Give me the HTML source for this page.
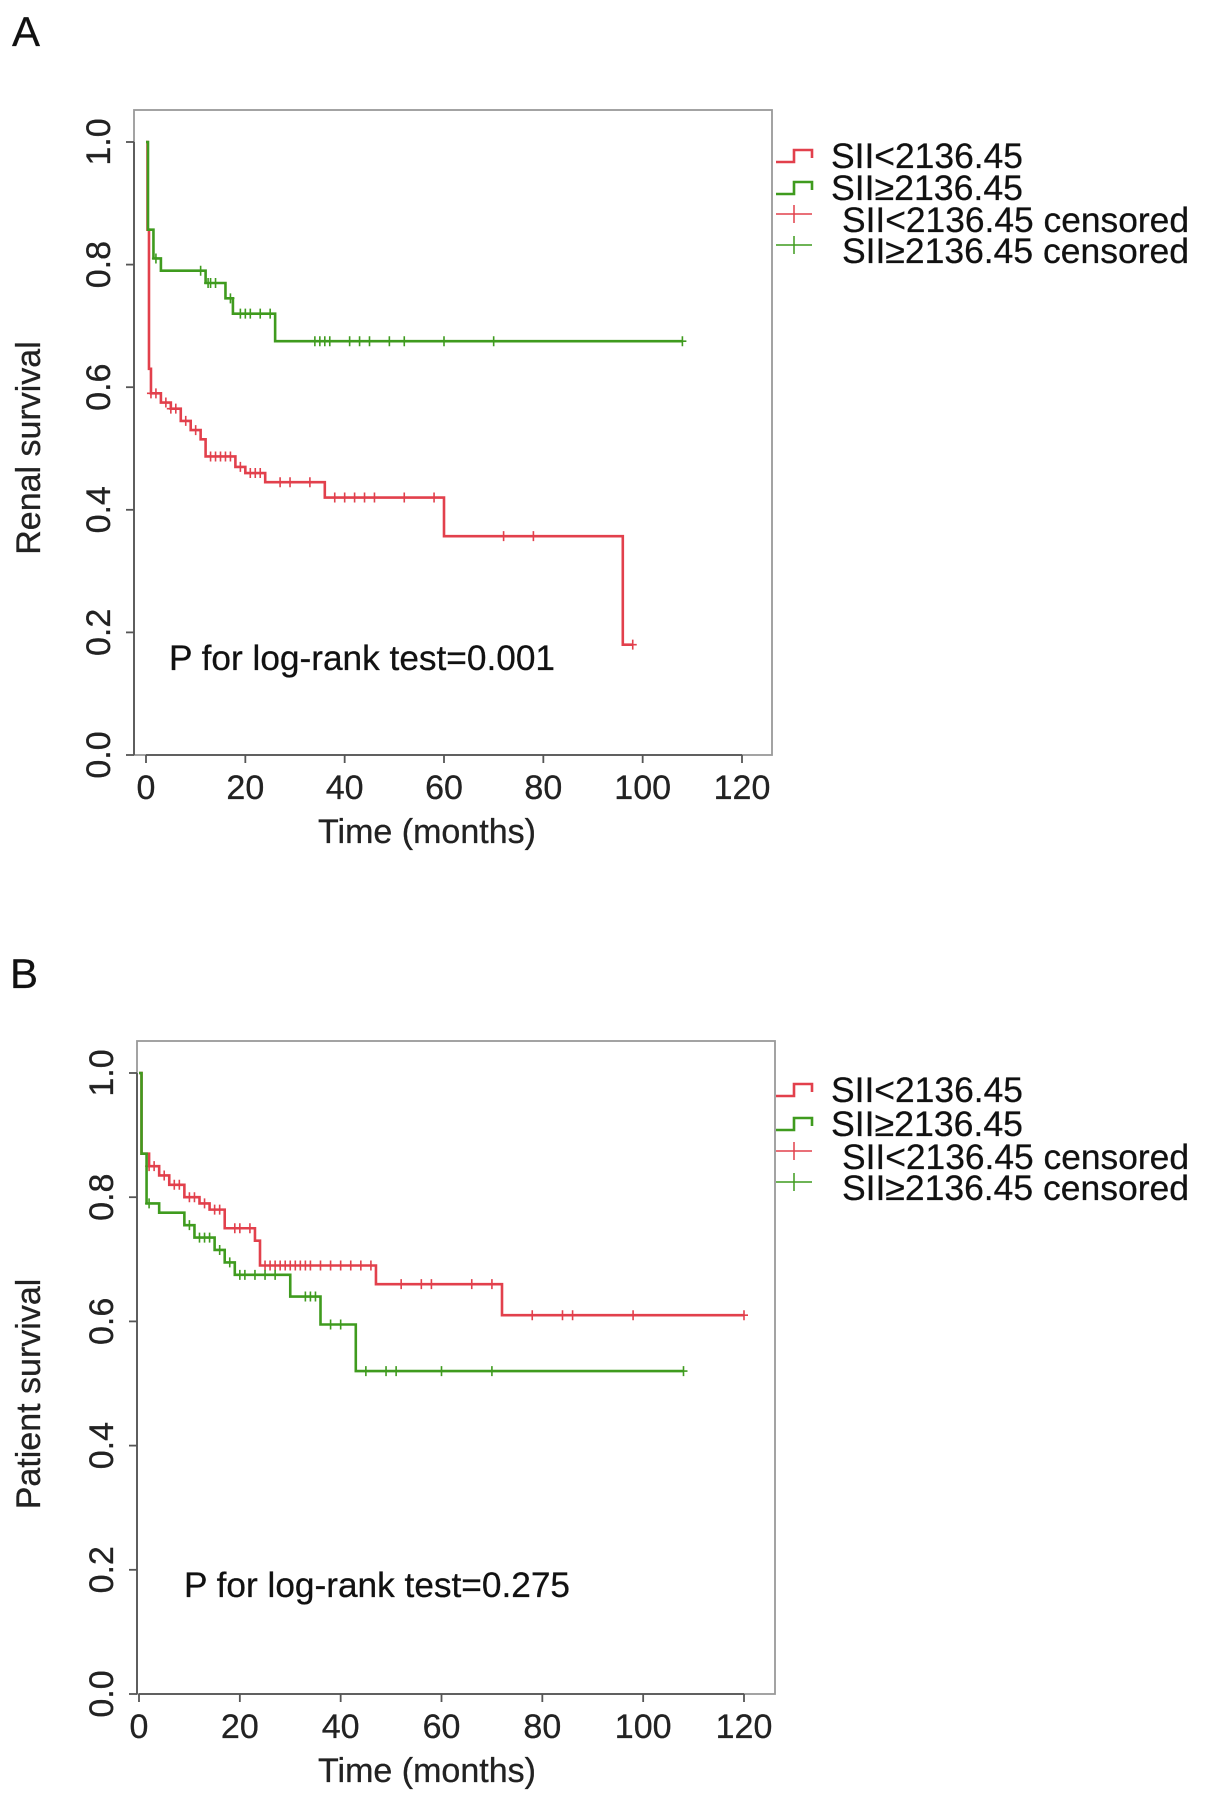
<!DOCTYPE html>
<html><head><meta charset="utf-8"><style>
html,body{margin:0;padding:0;background:#fff;}
svg{display:block;font-family:"Liberation Sans",Arial,sans-serif;}
text{stroke:#222;stroke-width:0.3px;}
</style></head><body>
<svg id="fig" width="1205" height="1804" viewBox="0 0 1205 1804"></svg>
<script>
// ---- Panel A data (Renal survival) ----
const aRedTimes = [0, 0.3, 0.6, 1, 3, 5, 7, 9, 11, 12, 18, 20, 24, 36, 60, 96];
const aRedSurv  = [1.0, 0.857, 0.63, 0.59, 0.575, 0.565, 0.545, 0.53, 0.515, 0.487, 0.47, 0.46, 0.445, 0.42, 0.357, 0.18];
const aRedEnd = 98;
const aRedCens = [1, 2, 4, 5, 6, 8, 10, 13, 14, 15, 16, 17, 19, 21, 22, 23, 27, 29, 33, 38, 40, 42, 44, 46, 52, 58, 72, 78, 98];
const aGreenTimes = [0, 0.4, 1.5, 3, 12, 16, 17.5, 26];
const aGreenSurv  = [1.0, 0.857, 0.81, 0.79, 0.77, 0.745, 0.72, 0.675];
const aGreenEnd = 108;
const aGreenCens = [2, 11, 12.5, 13, 14, 17, 19, 20, 21, 23, 25, 34, 35, 36, 37, 41, 43, 45, 49, 52, 60, 70, 108];

// ---- Panel B data (Patient survival) ----
const bRedTimes = [0, 0.5, 2, 4, 6, 9, 12, 14, 17, 23, 24, 47, 72];
const bRedSurv  = [1.0, 0.87, 0.85, 0.835, 0.82, 0.80, 0.79, 0.78, 0.75, 0.73, 0.69, 0.66, 0.61];
const bRedEnd = 120;
const bRedCens = [2, 3, 5, 7, 8, 10, 11, 13, 15, 16, 19, 20, 22, 25, 26, 27, 28, 29, 30, 31, 32, 33, 34, 36, 38, 40, 42, 44, 46, 52, 56, 58, 66, 70, 78, 84, 86, 98, 120];
const bGreenTimes = [0, 0.5, 1.5, 4, 9, 11, 15, 17, 19, 30, 36, 43];
const bGreenSurv  = [1.0, 0.87, 0.79, 0.775, 0.755, 0.735, 0.715, 0.695, 0.675, 0.64, 0.595, 0.52];
const bGreenEnd = 108;
const bGreenCens = [2, 10, 12, 13, 14, 16, 18, 20, 21, 23, 25, 27, 33, 34, 35, 38, 40, 45, 49, 51, 60, 70, 108];

// ---- shared tick labels ----
const xTicks = [0, 20, 40, 60, 80, 100, 120];
const yTicks = [0.0, 0.2, 0.4, 0.6, 0.8, 1.0];
const legendLabels = ["SII<2136.45", "SII\u22652136.45", "SII<2136.45 censored", "SII\u22652136.45 censored"];

const NS = "http://www.w3.org/2000/svg";
const svg = document.getElementById("fig");
const RED = "#e2404c", GREEN = "#3f9b1e", AX = "#555";
const FS = 34;

function mk(tag, attrs, parent) {
  const e = document.createElementNS(NS, tag);
  for (const k in attrs) e.setAttribute(k, attrs[k]);
  (parent || svg).appendChild(e);
  return e;
}

function survAt(times, surv, t) {
  let s = surv[0];
  for (let i = 0; i < times.length; i++) if (times[i] <= t) s = surv[i];
  return s;
}

function drawPanel(p) {
  const g = mk("g", {});
  
  
  const xs = v => p.x0 + (v / 120) * (p.x120 - p.x0);
  const ys = v => p.y0 + v * (p.y1 - p.y0);

  const lbl = mk("text", {x: p.lx, y: p.ly, "font-size": 42, fill: "#111"}, g);
  lbl.textContent = p.letter;
  
  

  const box = mk("rect", {x: p.bl, y: p.bt, width: p.br - p.bl, height: p.bb - p.bt, fill: "none", stroke: "#999", "stroke-width": 1.8}, g);
  
  

  // x axis
  const xa = mk("g", {}, g);
  
  
  mk("line", {x1: xs(xTicks[0]), x2: xs(xTicks[xTicks.length - 1]), y1: p.bb, y2: p.bb, stroke: AX, "stroke-width": 1.8}, xa);
  xTicks.forEach(t => {
    mk("line", {x1: xs(t), x2: xs(t), y1: p.bb, y2: p.bb + 8, stroke: AX, "stroke-width": 1.8}, xa);
    const tx = mk("text", {x: xs(t), y: p.bb + 44, "font-size": FS, "text-anchor": "middle", fill: "#222"}, xa);
    tx.textContent = t;
    
    
  });
  const xt = mk("text", {x: 427, y: p.bb + 88, "font-size": FS, "text-anchor": "middle", fill: "#222"}, g);
  xt.textContent = "Time (months)";
  
  

  // y axis
  const ya = mk("g", {}, g);
  
  
  mk("line", {x1: p.bl, x2: p.bl, y1: ys(0), y2: ys(1), stroke: AX, "stroke-width": 1.8}, ya);
  yTicks.forEach(t => {
    mk("line", {x1: p.bl - 8, x2: p.bl, y1: ys(t), y2: ys(t), stroke: AX, "stroke-width": 1.8}, ya);
    const tx = mk("text", {x: 0, y: 0, "font-size": FS, "text-anchor": "middle", fill: "#222",
      transform: "translate(" + (p.bl - 24) + "," + ys(t) + ") rotate(-90)"}, ya);
    tx.textContent = t.toFixed(1);
    
    
  });
  const yt = mk("text", {x: 0, y: 0, "font-size": FS, "text-anchor": "middle", fill: "#222",
    transform: "translate(40," + p.ytY + ") rotate(-90)"}, g);
  yt.textContent = p.ytitle;
  
  

  // curves
  p.series.forEach(s => {
    let d = "M" + xs(s.times[0]) + "," + ys(s.surv[0]);
    for (let i = 1; i < s.times.length; i++) {
      d += " H" + xs(s.times[i]) + " V" + ys(s.surv[i]);
    }
    d += " H" + xs(s.end);
    const path = mk("path", {d: d, fill: "none", stroke: s.color, "stroke-width": 2.6}, g);
    
    
    s.cens.forEach(c => {
      const cx = xs(c), cy = ys(survAt(s.times, s.surv, c));
      const m = mk("path", {d: "M" + (cx - 4) + "," + cy + " H" + (cx + 4) + " M" + cx + "," + (cy - 5) + " V" + (cy + 5),
        stroke: s.color, "stroke-width": 1.6, fill: "none"}, g);
      
      
    });
  });

  const pt = mk("text", {x: p.px, y: p.py + 12, "font-size": 35, fill: "#111", textLength: 386, lengthAdjust: "spacingAndGlyphs"}, g);
  pt.textContent = p.ptext;
  
  

  // legend
  const lg = mk("g", {}, g);
  
  
  const cols = [RED, GREEN, RED, GREEN];
  const lens = [192, 192, 347, 347];
  legendLabels.forEach((t, i) => {
    const y = p.legY[i];
    const e = mk("g", {}, lg);
    
    
    if (i < 2) {
      mk("path", {d: "M776," + (y + 6) + " H794 V" + (y - 6) + " H812 V" + (y + 2), stroke: cols[i], "stroke-width": 2.6, fill: "none"}, e);
    } else {
      mk("path", {d: "M776," + (y - 6) + " H812 M794," + (y - 15) + " V" + (y + 3), stroke: cols[i], "stroke-width": 1.5, fill: "none"}, e);
    }
    const tx = mk("text", {x: i < 2 ? 831 : 842, y: y + 12, "font-size": 35, fill: "#111", textLength: lens[i], lengthAdjust: "spacingAndGlyphs"}, e);
    tx.textContent = t;
  });
}

drawPanel({
  name: "panel-a-renal-survival", letter: "A", lx: 12, ly: 46,
  bl: 134, br: 772, bt: 110, bb: 755,
  x0: 146, x120: 742, y0: 755, y1: 142,
  ytitle: "Renal survival", ytY: 448,
  ptext: "P for log-rank test=0.001", px: 169, py: 658,
  legY: [156, 188, 220, 251],
  series: [
    {name: "sii-low", color: RED, times: aRedTimes, surv: aRedSurv, end: aRedEnd, cens: aRedCens},
    {name: "sii-high", color: GREEN, times: aGreenTimes, surv: aGreenSurv, end: aGreenEnd, cens: aGreenCens}
  ]
});
drawPanel({
  name: "panel-b-patient-survival", letter: "B", lx: 10, ly: 988,
  bl: 137, br: 775, bt: 1041, bb: 1694,
  x0: 139, x120: 744, y0: 1694, y1: 1073,
  ytitle: "Patient survival", ytY: 1394,
  ptext: "P for log-rank test=0.275", px: 184, py: 1585,
  legY: [1090, 1124, 1157, 1188],
  series: [
    {name: "sii-low", color: RED, times: bRedTimes, surv: bRedSurv, end: bRedEnd, cens: bRedCens},
    {name: "sii-high", color: GREEN, times: bGreenTimes, surv: bGreenSurv, end: bGreenEnd, cens: bGreenCens}
  ]
});
</script>
</body></html>
